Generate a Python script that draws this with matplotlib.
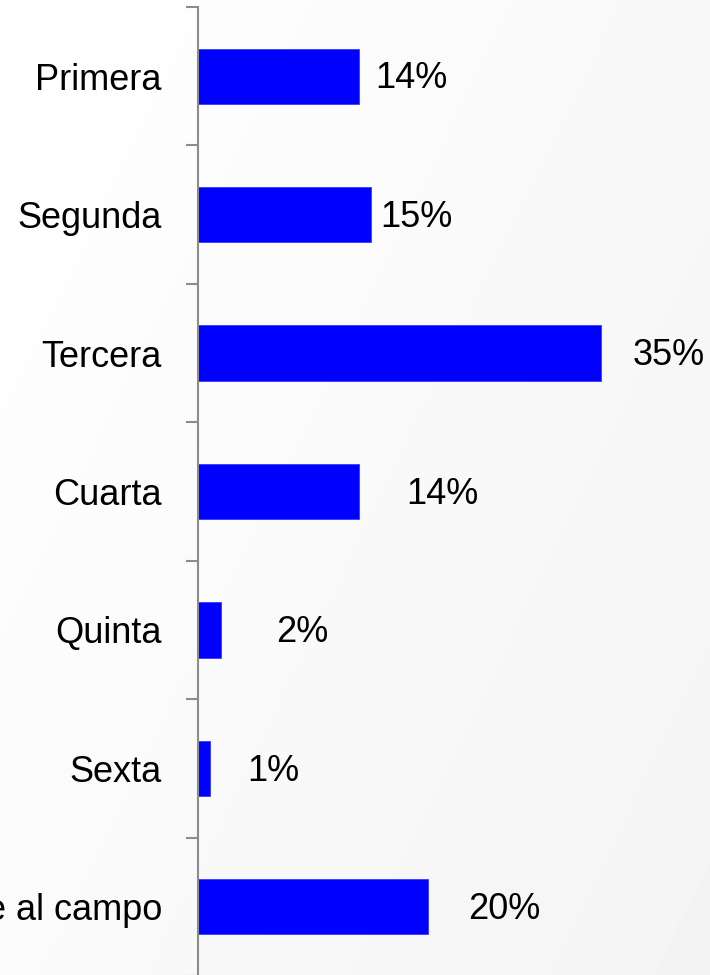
import numpy as np
import matplotlib
matplotlib.use("Agg")
import matplotlib.pyplot as plt

# category names, top to bottom
categorias = ["Primera", "Segunda", "Tercera", "Cuarta", "Quinta", "Sexta", "Sale al campo"]
# share of responses, in percent
porcentajes = [14, 15, 35, 14, 2, 1, 20]
# extra gap (points) between each bar end and its label
desfase_etiqueta = [12, 7, 23, 34, 40, 27, 29]

plt.rcParams["font.family"] = ["Liberation Sans", "DejaVu Sans"]

fig = plt.figure(figsize=(7.1, 9.75), dpi=100)

# soft diagonal grey wash behind everything
fondo = fig.add_axes([0, 0, 1, 1], zorder=-1)
gx, gy = np.meshgrid(np.linspace(0, 1, 200), np.linspace(0, 1, 200))
grad = 1.0 - 0.045 * (gx * 0.6 + gy * 0.4)
fondo.imshow(grad, cmap="gray", vmin=0, vmax=1, aspect="auto", extent=[0, 1, 0, 1])
fondo.axis("off")

ax = fig.add_axes([198 / 710, -1 / 975, 512 / 710, 969 / 975])
ax.patch.set_visible(False)

y = np.arange(len(categorias))
ax.barh(y, porcentajes, height=0.4, color="#0000ff", edgecolor="#3a3aff", linewidth=0.6)

for yi, v, d in zip(y, porcentajes, desfase_etiqueta):
    ax.annotate(f"{v}%", (v, yi), xytext=(d, -2), textcoords="offset points",
                ha="left", va="center", fontsize=26)

ax.set_ylim(len(categorias) - 0.5, -0.5)
ax.set_xlim(0, 512 / 11.5)

for lado in ["top", "right", "bottom"]:
    ax.spines[lado].set_visible(False)
ax.spines["left"].set_color("#8c8c8c")
ax.spines["left"].set_linewidth(1.5)

ax.set_xticks([])
ax.set_yticks(y)
ax.set_yticklabels(categorias, fontsize=26)
ax.tick_params(axis="y", which="major", length=0, pad=26)
ax.set_yticks(np.arange(len(categorias) + 1) - 0.5, minor=True)
ax.tick_params(axis="y", which="minor", length=9, width=1.5, color="#8c8c8c")

fig.savefig("out.png", dpi=100)
